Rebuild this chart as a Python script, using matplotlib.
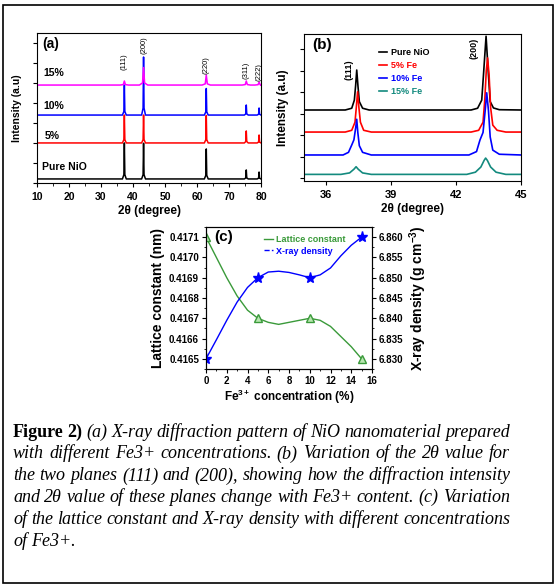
import numpy as np
import matplotlib
matplotlib.use("Agg")
import matplotlib.pyplot as plt
from matplotlib.lines import Line2D
from matplotlib.patches import Rectangle
from matplotlib.ticker import MultipleLocator, FormatStrFormatter

plt.rcParams['font.family'] = ['Liberation Sans', 'DejaVu Sans']
plt.rcParams['font.weight'] = 'bold'
plt.rcParams['axes.labelweight'] = 'bold'
plt.rcParams['mathtext.fontset'] = 'custom'
plt.rcParams['mathtext.rm'] = 'Liberation Sans:bold'
plt.rcParams['mathtext.bf'] = 'Liberation Sans:bold'
plt.rcParams['mathtext.it'] = 'Liberation Sans:bold:italic'

W, H = 557, 588

# ---- panel (a): XRD patterns, peak table ----
a_labels = ["Pure NiO", "5%", "10%", "15%"]
a_colors = ["black", "red", "blue", "#ff00ff"]
a_base = [2.7, 26.7, 45.3, 65.3]
a_peak_pos = [37.3, 43.3, 62.9, 75.4, 79.4]
a_peak_names = ["(111)", "(200)", "(220)", "(311)", "(222)"]
a_peak_top = [
    [26.7, 26.5, 22.7, 8.7, 7.3],
    [45.3, 45.3, 45.0, 34.7, 32.0],
    [65.3, 84.0, 63.0, 52.0, 50.0],
    [68.0, 77.0, 72.0, 68.0, 67.3],
]
a_peak_width = [0.6, 0.6, 0.6, 1.3]

# ---- panel (b): zoom on (111) and (200), vertices ----
b_labels = ["Pure NiO", "5% Fe", "10% Fe", "15% Fe"]
b_colors = ["black", "red", "blue", "#138a7e"]
b_x = [
    [35, 36.9, 37.2, 37.32, 37.38, 37.43, 37.49, 37.55, 37.7, 38.0,
     42.7, 43.0, 43.19, 43.27, 43.39, 43.5, 43.58, 43.73, 44.0, 45],
    [35, 36.9, 37.2, 37.35, 37.41, 37.47, 37.53, 37.6, 37.75, 38.1,
     42.7, 43.05, 43.25, 43.33, 43.4, 43.46, 43.53, 43.6, 43.7, 43.9, 44.3, 45],
    [35, 36.8, 37.05, 37.2, 37.3, 37.38, 37.43, 37.48, 37.55, 37.7, 38.1,
     42.6, 42.95, 43.11, 43.25, 43.35, 43.42, 43.5, 43.58, 43.7, 44.0, 45],
    [35, 36.7, 37.1, 37.3, 37.4, 37.5, 37.7, 38.1,
     42.5, 42.9, 43.15, 43.3, 43.37, 43.45, 43.6, 43.85, 44.3, 45],
]
b_y = [
    [48.3, 48.3, 49.5, 55, 65, 75.5, 64, 54, 49.5, 48.3,
     48.3, 49.5, 55, 72, 98.5, 72, 54, 49.7, 48.5, 48.3],
    [33.3, 33.3, 34.5, 40, 50, 60.7, 50, 40, 34.5, 33.3,
     33.3, 34.5, 40, 55, 75, 83.7, 72, 50, 38, 34.5, 33.3, 33.3],
    [17.7, 17.7, 19.5, 24.5, 28, 36, 42, 33, 24, 19.5, 17.7,
     17.7, 20, 27.9, 33, 48, 60, 48, 30, 21, 18.2, 17.7],
    [4.5, 4.5, 5.5, 8, 9.7, 8, 5.5, 4.5,
     4.5, 6, 9.5, 14, 15.6, 14, 9.5, 6, 4.5, 4.5],
]

# ---- panel (c): lattice constant and X-ray density ----
c_conc = [0, 5, 10, 15]
c_lattice = [0.4171, 0.4167, 0.4167, 0.4165]
c_density = [6.830, 6.850, 6.850, 6.860]
# points along the drawn smooth curves
c_curve_x = [0, 1, 2, 3, 4, 5, 6, 7, 8, 9, 10, 11, 12, 13, 14, 15]
c_lattice_curve = [0.41710, 0.41700, 0.41690, 0.41681, 0.41674, 0.41670, 0.41668, 0.41667,
                   0.41668, 0.41669, 0.41670, 0.41669, 0.41666, 0.41661, 0.41656, 0.41650]
c_density_curve = [6.8300, 6.8347, 6.8395, 6.8440, 6.8476, 6.8500, 6.8514, 6.8516,
                   6.8513, 6.8507, 6.8500, 6.8507, 6.8524, 6.8554, 6.8580, 6.8600]

caption = [
    [("Figure", "normal", "bold"), ("2)", "normal", "bold")] +
    [(w, "italic", "normal") for w in "(a) X-ray diffraction pattern of NiO nanomaterial prepared".split()],
    [(w, "italic", "normal") for w in "with different Fe3+ concentrations. (b) Variation of the 2θ value for".split()],
    [(w, "italic", "normal") for w in "the two planes (111) and (200), showing how the diffraction intensity".split()],
    [(w, "italic", "normal") for w in "and 2θ value of these planes change with Fe3+ content. (c) Variation".split()],
    [(w, "italic", "normal") for w in "of the lattice constant and X-ray density with different concentrations".split()],
    [(w, "italic", "normal") for w in "of Fe3+.".split()],
]
caption_y = [436.7, 458.5, 480.5, 502.3, 524.0, 546.0]


def spike(x, y, base, pos, top, hw):
    # narrow peak vertices at a read position/height
    x += [pos - hw, pos - hw / 4, pos, pos + hw / 4, pos + hw]
    y += [base, base + (top - base) * 0.12, top, base + (top - base) * 0.12, base]


def ax_box(l, t, r, b):
    return [l / W, 1 - b / H, (r - l) / W, (b - t) / H]


fig = plt.figure(figsize=(W / 100, H / 100), dpi=100)
fig.patches.append(Rectangle((3 / W, 1 - 583 / H), 550 / W, 578 / H, transform=fig.transFigure,
                             fill=False, lw=1.2, ec="black"))

# (a)
ax1 = fig.add_axes(ax_box(37, 33, 261, 183))
for i in range(4):
    xs, ys = [10], [a_base[i]]
    for j, p in enumerate(a_peak_pos):
        spike(xs, ys, a_base[i], p, a_peak_top[i][j], a_peak_width[i])
    xs.append(80)
    ys.append(a_base[i])
    ax1.plot(xs, ys, color=a_colors[i], lw=1.1)
ax1.set_xlim(10, 80)
ax1.set_ylim(0, 100)
ax1.xaxis.set_major_locator(MultipleLocator(10))
ax1.xaxis.set_minor_locator(MultipleLocator(5))
ax1.set_yticks(np.arange(0, 100, 13.33))
ax1.set_yticklabels([])
ax1.tick_params(labelsize=7.5, direction="out", length=3, width=0.8)
ax1.tick_params(which="minor", length=2)
ax1.set_xlabel("2θ (degree)", fontsize=8.5, labelpad=2)
ax1.set_ylabel("Intensity (a.u)", fontsize=7.5, labelpad=4)
for name, p, yc in zip(a_peak_names, a_peak_pos, [80.7, 92, 78.7, 75.3, 74]):
    ax1.text(p, yc, name, rotation=90, fontsize=5.5, weight="normal", ha="center", va="center")
for lab, xx, yy in zip(a_labels, [11.6, 12.5, 11.9, 11.9], [10.7, 31.3, 51.3, 73.3]):
    ax1.text(xx, yy, lab, fontsize=7.5, ha="left", va="center")
ax1.text(11.6, 93, "(a)", fontsize=10, ha="left", va="center")

# (b)
ax2 = fig.add_axes(ax_box(304, 34, 521, 181))
for i in range(4):
    ax2.plot(b_x[i], b_y[i], color=b_colors[i], lw=1.2, label=b_labels[i])
ax2.set_xlim(35, 45)
ax2.set_ylim(0, 100)
ax2.set_xticks([36, 39, 42, 45])
ax2.set_yticks(np.arange(2, 100, 14.6))
ax2.set_yticklabels([])
ax2.tick_params(labelsize=8, direction="out", length=3, width=0.8)
ax2.set_xlabel("2θ (degree)", fontsize=8.5, labelpad=2)
ax2.set_ylabel("Intensity (a.u)", fontsize=8.5, labelpad=4)
ax2.text(37.07, 75.5, "(111)", rotation=90, fontsize=6.5, ha="center", va="center")
ax2.text(42.83, 90.5, "(200)", rotation=90, fontsize=6.5, ha="center", va="center")
ax2.text(35.37, 92.5, "(b)", fontsize=11, ha="left", va="center")
ax2.legend(loc="upper left", bbox_to_anchor=(0.33, 0.93), frameon=False, fontsize=6.5,
           handlelength=0.9, handletextpad=0.4, labelspacing=0.45, labelcolor="linecolor",
           borderaxespad=0)

# (c)
ax3 = fig.add_axes(ax_box(206, 227, 372, 369))
ax4 = ax3.twinx()
green = "#3a9a3a"
ax3.plot(c_curve_x, c_lattice_curve, color=green, lw=1)
ax3.plot(c_conc, c_lattice, ls="none", marker="^", ms=6, mfc="#b8e6b0", mec=green, mew=1)
ax4.plot(c_curve_x, c_density_curve, color="blue", lw=1)
ax4.plot(c_conc, c_density, ls="none", marker="*", ms=8, color="blue")
ax3.set_xlim(0, 16)
ax3.set_ylim(0.41645, 0.41715)
ax4.set_ylim(6.8275, 6.8625)
ax3.xaxis.set_major_locator(MultipleLocator(2))
ax3.xaxis.set_minor_locator(MultipleLocator(1))
ax3.yaxis.set_major_locator(MultipleLocator(0.0001))
ax3.yaxis.set_minor_locator(MultipleLocator(0.00005))
ax4.yaxis.set_major_locator(MultipleLocator(0.005))
ax4.yaxis.set_minor_locator(MultipleLocator(0.0025))
ax3.yaxis.set_major_formatter(FormatStrFormatter("%.4f"))
ax4.yaxis.set_major_formatter(FormatStrFormatter("%.3f"))
for a in (ax3, ax4):
    a.tick_params(labelsize=7, direction="out", length=3, width=0.8, pad=2)
    a.tick_params(which="minor", length=1.5)
ax3.set_xlabel("Fe$^{3+}$ concentration (%)", fontsize=8.5, labelpad=1)
ax3.set_ylabel("Lattice constant (nm)", fontsize=10, labelpad=3)
ax4.set_ylabel("X-ray density (g cm$^{-3}$)", fontsize=10, labelpad=3)
ax3.text(0.8, 0.4171, "(c)", fontsize=11, ha="left", va="center")
handles = [Line2D([], [], color=green, lw=1), Line2D([], [], color="blue", lw=1, ls="--")]
ax3.legend(handles, ["Lattice constant", "X-ray density"], loc="upper left",
           bbox_to_anchor=(0.33, 0.97), frameon=False, fontsize=6.5, handlelength=0.9,
           handletextpad=0.4, labelspacing=0.3, labelcolor=[green, "blue"], borderaxespad=0)

# caption, justified line by line
renderer = fig.canvas.get_renderer()
x_left, x_right = 13, 510
for k, (line, yb) in enumerate(zip(caption, caption_y)):
    texts = [fig.text(0, 1 - yb / H, w, fontsize=13, family="Liberation Serif", style=st,
                      weight=wt, va="baseline") for w, st, wt in line]
    widths = [t.get_window_extent(renderer).width for t in texts]
    if k < len(caption) - 1:
        gap = (x_right - x_left - sum(widths)) / (len(texts) - 1)
    else:
        gap = 4
    x = x_left
    for t, wd in zip(texts, widths):
        t.set_x(x / W)
        x += wd + gap

fig.savefig("out.png", dpi=100)
